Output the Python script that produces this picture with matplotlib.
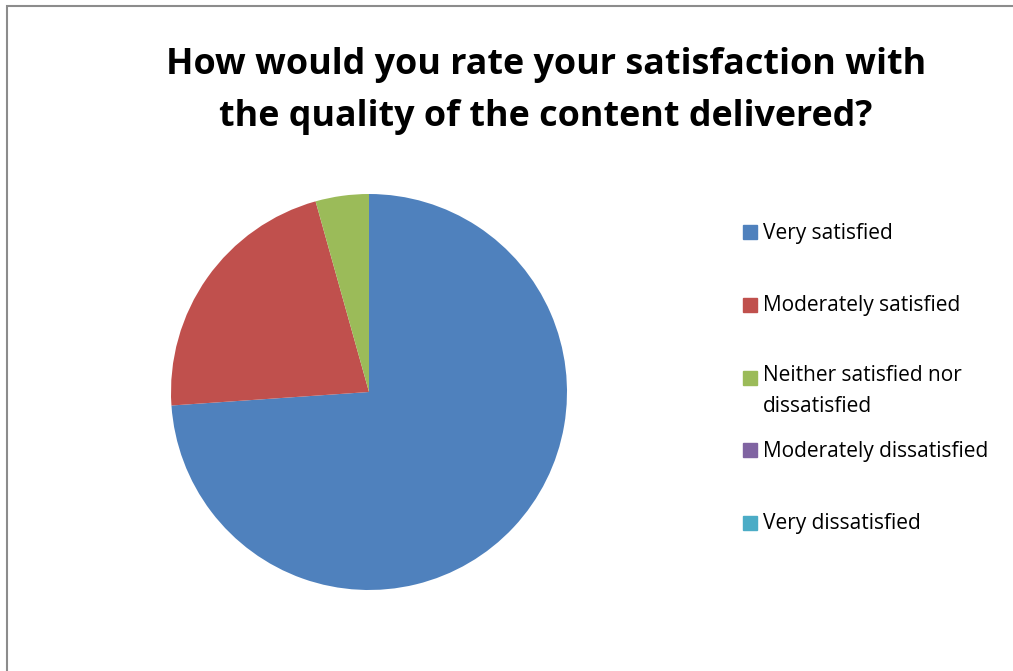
import matplotlib.pyplot as plt
from matplotlib.patches import Rectangle

## survey answers (counts)
categories = ["Very satisfied", "Moderately satisfied",
              "Neither satisfied nor\ndissatisfied",
              "Moderately dissatisfied", "Very dissatisfied"]
counts = [17, 5, 1, 0, 0]
colors = ["#4F81BD", "#C0504D", "#9BBB59", "#8064A2", "#4BACC6"]
title = "How would you rate your satisfaction with\nthe quality of the content delivered?"

W, H = 1013, 671
fig = plt.figure(figsize=(W / 100, H / 100), dpi=100)
plt.rcParams['font.family'] = ['Open Sans', 'DejaVu Sans']

# chart frame (cut off at right and bottom like the source)
fig.patches.append(Rectangle((7 / W, -0.1), 1.2, (H - 5.5) / H + 0.1,
                             transform=fig.transFigure, fill=False,
                             edgecolor="#8c8c8c", linewidth=1.5))

# pie area in pixels: center (369, 392), radius 198
cx, cy, r = 369, 392, 198
ax = fig.add_axes([(cx - r) / W, (H - cy - r) / H, 2 * r / W, 2 * r / H])
ax.pie(counts, colors=colors, startangle=90, counterclock=False,
       radius=1, wedgeprops={"linewidth": 0})
ax.set_xlim(-1, 1)
ax.set_ylim(-1, 1)
ax.set_aspect("equal")
ax.axis("off")

fig.text(546 / W, 1 - 91 / H, title, ha="center", va="center",
         fontsize=25.8, fontweight="bold", linespacing=1.6)

# legend, laid out like the Excel one
rows = [232, 305, 378, 450, 523]
for lab, col, y in zip(categories, colors, rows):
    fig.patches.append(Rectangle((743 / W, 1 - (y + 7) / H), 14 / W, 14 / H,
                                 transform=fig.transFigure, color=col))
    if "\n" in lab:
        fig.text(763 / W, 1 - (y - 13) / H, lab, ha="left", va="top",
                 fontsize=15, linespacing=1.6)
    else:
        fig.text(763 / W, 1 - (y + 1) / H, lab, ha="left", va="center", fontsize=15)

fig.savefig("out.png", dpi=100)
